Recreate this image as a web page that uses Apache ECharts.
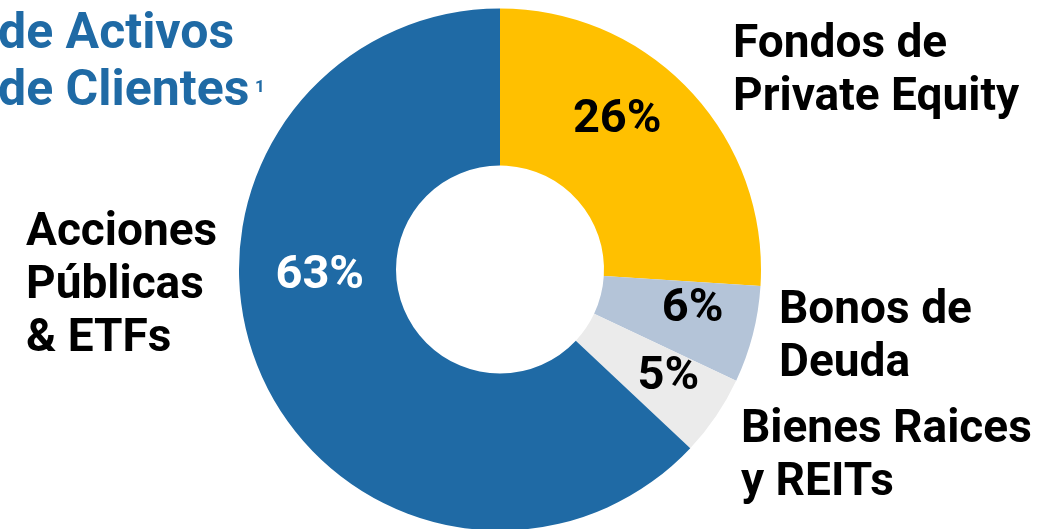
<!DOCTYPE html>
<html>
<head>
<meta charset="utf-8">
<script src="https://cdn.jsdelivr.net/npm/echarts@6/dist/echarts.min.js"></script>
<style>
  html, body { margin: 0; padding: 0; background: #fff; }
  #main { width: 1056px; height: 529px; }
</style>
</head>
<body>
<div id="main"></div>
<script>
// datos
const categories = ["Fondos de Private Equity", "Bonos de Deuda", "Bienes Raices y REITs", "Acciones Públicas & ETFs"];
const values = [26, 6, 5, 63];

// estilo
const sliceColors = ["#ffc000", "#b4c4d8", "#ebebeb", "#1f6aa5"];
const pctColors = ["#000", "#000", "#000", "#fff"];
const pctShift = [[-18, -22], [13, -6], [15, 3], [-10, -67]]; // ajuste de etiquetas %
const nameLines = [
  { text: "Fondos de\nPrivate Equity", x: 733, y: 46 },
  { text: "Bonos de\nDeuda", x: 779, y: 312 },
  { text: "Bienes Raices\ny REITs", x: 741, y: 431 },
  { text: "Acciones\nPúblicas\n& ETFs", x: 26, y: 234 }
];
const FONT = "Roboto";

const chart = echarts.init(document.getElementById("main"));

const nameGraphics = nameLines.map(function (n) {
  return {
    type: "text",
    left: n.x,
    top: n.y - 27,
    style: {
      text: n.text,
      font: "bold 46px " + FONT,
      fill: "#000",
      lineHeight: 53
    }
  };
});

const option = {
  animation: false,
  graphic: nameGraphics.concat([
    {
      type: "text",
      left: -2,
      top: 7,
      style: {
        text: "de Activos\nde Clientes",
        font: "bold 50px " + FONT,
        fill: "#1f6aa5",
        lineHeight: 57
      }
    },
    {
      type: "text",
      left: 255,
      top: 79,
      style: { text: "1", font: "bold 17px " + FONT, fill: "#1f6aa5" }
    }
  ]),
  series: [
    {
      type: "pie",
      center: [500, 269.5],
      radius: [104, 261],
      startAngle: 90,
      clockwise: true,
      silent: true,
      label: {
        show: true,
        position: "inside",
        formatter: "{c}%",
        fontFamily: FONT,
        fontSize: 47,
        fontWeight: "bold"
      },
      labelLine: { show: false },
      labelLayout: function (params) {
        const s = pctShift[params.dataIndex];
        return { dx: s[0], dy: s[1] };
      },
      data: values.map(function (v, i) {
        return {
          value: v,
          name: categories[i],
          itemStyle: { color: sliceColors[i] },
          label: { color: pctColors[i] }
        };
      })
    }
  ]
};

chart.setOption(option);
</script>
</body>
</html>
